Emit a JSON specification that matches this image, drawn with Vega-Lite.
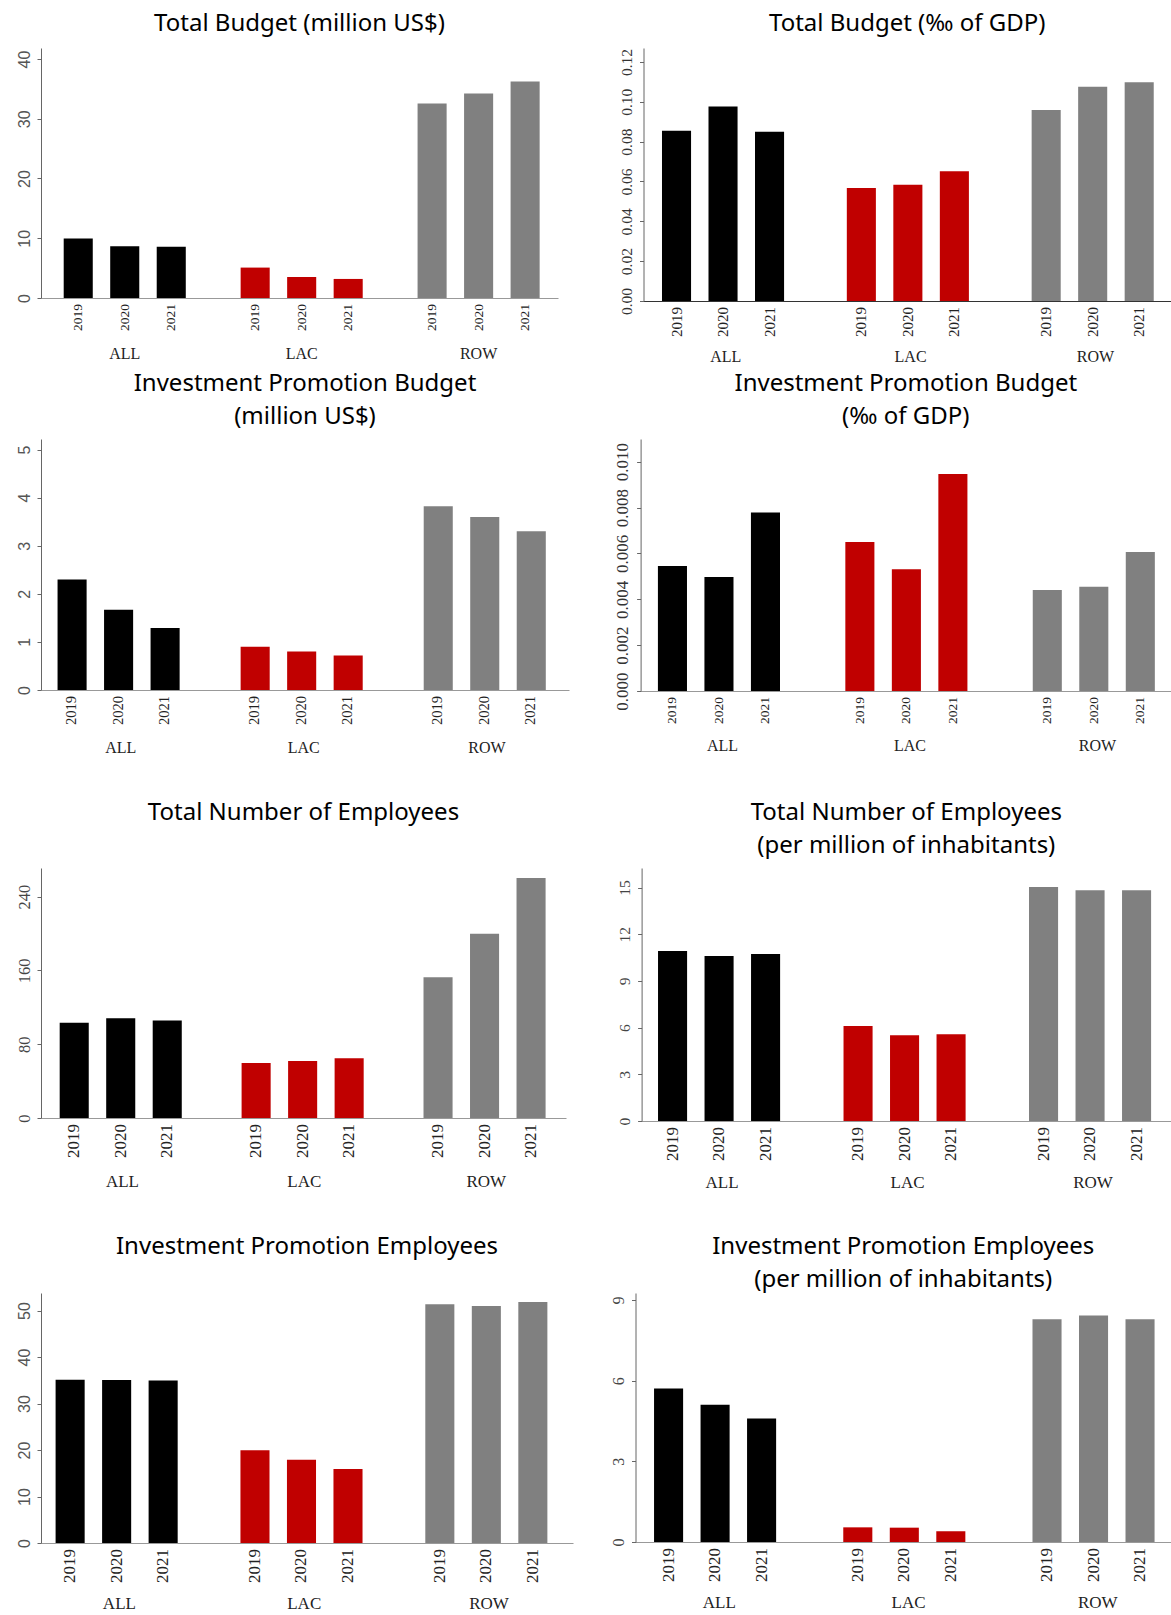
{
  "$schema": "https://vega.github.io/schema/vega-lite/v6.json",
  "background": "white",
  "padding": {"left": 15, "top": 11, "right": 0, "bottom": 0},
  "data": {"values": [
    {"panel": "p1", "group": "ALL", "year": "2019", "value": 9.96},
    {"panel": "p1", "group": "ALL", "year": "2020", "value": 8.67},
    {"panel": "p1", "group": "ALL", "year": "2021", "value": 8.56},
    {"panel": "p1", "group": "LAC", "year": "2019", "value": 5.09},
    {"panel": "p1", "group": "LAC", "year": "2020", "value": 3.52},
    {"panel": "p1", "group": "LAC", "year": "2021", "value": 3.19},
    {"panel": "p1", "group": "ROW", "year": "2019", "value": 32.56},
    {"panel": "p1", "group": "ROW", "year": "2020", "value": 34.24},
    {"panel": "p1", "group": "ROW", "year": "2021", "value": 36.25},
    {"panel": "p2", "group": "ALL", "year": "2019", "value": 0.0854},
    {"panel": "p2", "group": "ALL", "year": "2020", "value": 0.0976},
    {"panel": "p2", "group": "ALL", "year": "2021", "value": 0.0849},
    {"panel": "p2", "group": "LAC", "year": "2019", "value": 0.0567},
    {"panel": "p2", "group": "LAC", "year": "2020", "value": 0.0584},
    {"panel": "p2", "group": "LAC", "year": "2021", "value": 0.0651},
    {"panel": "p2", "group": "ROW", "year": "2019", "value": 0.0959},
    {"panel": "p2", "group": "ROW", "year": "2020", "value": 0.1076},
    {"panel": "p2", "group": "ROW", "year": "2021", "value": 0.1098},
    {"panel": "p3", "group": "ALL", "year": "2019", "value": 2.30},
    {"panel": "p3", "group": "ALL", "year": "2020", "value": 1.67},
    {"panel": "p3", "group": "ALL", "year": "2021", "value": 1.29},
    {"panel": "p3", "group": "LAC", "year": "2019", "value": 0.90},
    {"panel": "p3", "group": "LAC", "year": "2020", "value": 0.80},
    {"panel": "p3", "group": "LAC", "year": "2021", "value": 0.72},
    {"panel": "p3", "group": "ROW", "year": "2019", "value": 3.82},
    {"panel": "p3", "group": "ROW", "year": "2020", "value": 3.60},
    {"panel": "p3", "group": "ROW", "year": "2021", "value": 3.30},
    {"panel": "p4", "group": "ALL", "year": "2019", "value": 0.00545},
    {"panel": "p4", "group": "ALL", "year": "2020", "value": 0.00497},
    {"panel": "p4", "group": "ALL", "year": "2021", "value": 0.00778},
    {"panel": "p4", "group": "LAC", "year": "2019", "value": 0.00650},
    {"panel": "p4", "group": "LAC", "year": "2020", "value": 0.00531},
    {"panel": "p4", "group": "LAC", "year": "2021", "value": 0.00946},
    {"panel": "p4", "group": "ROW", "year": "2019", "value": 0.00440},
    {"panel": "p4", "group": "ROW", "year": "2020", "value": 0.00455},
    {"panel": "p4", "group": "ROW", "year": "2021", "value": 0.00606},
    {"panel": "p5", "group": "ALL", "year": "2019", "value": 103.4},
    {"panel": "p5", "group": "ALL", "year": "2020", "value": 108.1},
    {"panel": "p5", "group": "ALL", "year": "2021", "value": 105.6},
    {"panel": "p5", "group": "LAC", "year": "2019", "value": 59.6},
    {"panel": "p5", "group": "LAC", "year": "2020", "value": 61.8},
    {"panel": "p5", "group": "LAC", "year": "2021", "value": 64.7},
    {"panel": "p5", "group": "ROW", "year": "2019", "value": 152.5},
    {"panel": "p5", "group": "ROW", "year": "2020", "value": 199.9},
    {"panel": "p5", "group": "ROW", "year": "2021", "value": 260.3},
    {"panel": "p6", "group": "ALL", "year": "2019", "value": 10.93},
    {"panel": "p6", "group": "ALL", "year": "2020", "value": 10.61},
    {"panel": "p6", "group": "ALL", "year": "2021", "value": 10.74},
    {"panel": "p6", "group": "LAC", "year": "2019", "value": 6.11},
    {"panel": "p6", "group": "LAC", "year": "2020", "value": 5.51},
    {"panel": "p6", "group": "LAC", "year": "2021", "value": 5.57},
    {"panel": "p6", "group": "ROW", "year": "2019", "value": 15.04},
    {"panel": "p6", "group": "ROW", "year": "2020", "value": 14.83},
    {"panel": "p6", "group": "ROW", "year": "2021", "value": 14.83},
    {"panel": "p7", "group": "ALL", "year": "2019", "value": 35.15},
    {"panel": "p7", "group": "ALL", "year": "2020", "value": 35.08},
    {"panel": "p7", "group": "ALL", "year": "2021", "value": 34.94},
    {"panel": "p7", "group": "LAC", "year": "2019", "value": 19.94},
    {"panel": "p7", "group": "LAC", "year": "2020", "value": 17.93},
    {"panel": "p7", "group": "LAC", "year": "2021", "value": 15.93},
    {"panel": "p7", "group": "ROW", "year": "2019", "value": 51.36},
    {"panel": "p7", "group": "ROW", "year": "2020", "value": 51.0},
    {"panel": "p7", "group": "ROW", "year": "2021", "value": 51.87},
    {"panel": "p8", "group": "ALL", "year": "2019", "value": 5.71},
    {"panel": "p8", "group": "ALL", "year": "2020", "value": 5.10},
    {"panel": "p8", "group": "ALL", "year": "2021", "value": 4.59},
    {"panel": "p8", "group": "LAC", "year": "2019", "value": 0.545},
    {"panel": "p8", "group": "LAC", "year": "2020", "value": 0.533},
    {"panel": "p8", "group": "LAC", "year": "2021", "value": 0.40},
    {"panel": "p8", "group": "ROW", "year": "2019", "value": 8.28},
    {"panel": "p8", "group": "ROW", "year": "2020", "value": 8.42},
    {"panel": "p8", "group": "ROW", "year": "2021", "value": 8.28}
  ]},
  "spacing": 391,
  "bounds": "flush",
  "vconcat": [
    {
      "hconcat": [
        {
          "width": 517, "height": 250,
          "title": {"text": "Total Budget (million US$)", "offset": 12.5},
          "transform": [{"filter": "datum.panel === 'p1'"}],
          "encoding": {
            "x": {"field": "group", "type": "nominal", "sort": ["ALL", "LAC", "ROW"], "scale": {"paddingInner": 0.31, "paddingOuter": 0.116, "align": 0.553}, "axis": {"title": null, "ticks": false, "tickSize": 0, "labelPadding": 47, "labelAngle": 0, "labelFont": "Liberation Serif", "labelFontSize": 16, "labelColor": "#222", "domainColor": "#999"}},
            "xOffset": {"field": "year", "type": "nominal", "scale": {"paddingInner": 0.375, "paddingOuter": 0}}
          },
          "layer": [
            {"mark": {"type": "bar"}, "encoding": {
              "y": {"field": "value", "type": "quantitative", "scale": {"domain": [0, 41.84], "nice": false}, "axis": {"title": null, "values": [0, 10, 20, 30, 40], "labelAngle": -90, "labelFont": "Liberation Sans", "labelFontSize": 16, "labelColor": "#555", "labelPadding": 5, "tickColor": "#666", "tickSize": 4, "domainColor": "#666", "grid": false}},
              "color": {"field": "group", "type": "nominal", "scale": {"domain": ["ALL", "LAC", "ROW"], "range": ["#000000", "#c00000", "#808080"]}, "legend": null}}},
            {"mark": {"type": "text", "angle": 270, "align": "right", "baseline": "middle", "dx": -6, "font": "Liberation Serif", "fontSize": 13.5, "color": "#222"}, "encoding": {
              "y": {"datum": 0, "type": "quantitative"},
              "text": {"field": "year"}}}
          ]
        },
        {
          "width": 527.5, "height": 253,
          "title": {"text": "Total Budget (‰ of GDP)", "offset": 12.5},
          "transform": [{"filter": "datum.panel === 'p2'"}],
          "encoding": {
            "x": {"field": "group", "type": "nominal", "sort": ["ALL", "LAC", "ROW"], "scale": {"paddingInner": 0.31, "paddingOuter": 0.082, "align": 0.61}, "axis": {"title": null, "ticks": false, "tickSize": 0, "labelPadding": 47, "labelAngle": 0, "labelFont": "Liberation Serif", "labelFontSize": 16, "labelColor": "#222", "domainColor": "#333"}},
            "xOffset": {"field": "year", "type": "nominal", "scale": {"paddingInner": 0.375, "paddingOuter": 0}}
          },
          "layer": [
            {"mark": {"type": "bar"}, "encoding": {
              "y": {"field": "value", "type": "quantitative", "scale": {"domain": [0, 0.127], "nice": false}, "axis": {"title": null, "values": [0, 0.02, 0.04, 0.06, 0.08, 0.1, 0.12], "format": ".2f", "labelAngle": -90, "labelFont": "Liberation Serif", "labelFontSize": 15.5, "labelColor": "#333", "labelPadding": 5, "tickColor": "#666", "tickSize": 4, "domainColor": "#666", "grid": false}},
              "color": {"field": "group", "type": "nominal", "scale": {"domain": ["ALL", "LAC", "ROW"], "range": ["#000000", "#c00000", "#808080"]}, "legend": null}}},
            {"mark": {"type": "text", "angle": 270, "align": "right", "baseline": "middle", "dx": -6, "font": "Liberation Serif", "fontSize": 15, "color": "#222"}, "encoding": {
              "y": {"datum": 0, "type": "quantitative"},
              "text": {"field": "year"}}}
          ]
        }
      ],
      "spacing": 85.5,
      "bounds": "flush"
    },
    {
      "spacing": 429,
      "bounds": "flush",
      "vconcat": [
        {
          "hconcat": [
            {
              "width": 528, "height": 251,
              "title": {"text": ["Investment Promotion Budget", "(million US$)"], "offset": 10},
              "transform": [{"filter": "datum.panel === 'p3'"}],
              "encoding": {
                "x": {"field": "group", "type": "nominal", "sort": ["ALL", "LAC", "ROW"], "scale": {"paddingInner": 0.31, "paddingOuter": 0.097, "align": 0.466}, "axis": {"title": null, "ticks": false, "tickSize": 0, "labelPadding": 49, "labelAngle": 0, "labelFont": "Liberation Serif", "labelFontSize": 16, "labelColor": "#222", "domainColor": "#999"}},
                "xOffset": {"field": "year", "type": "nominal", "scale": {"paddingInner": 0.375, "paddingOuter": 0}}
              },
              "layer": [
                {"mark": {"type": "bar"}, "encoding": {
                  "y": {"field": "value", "type": "quantitative", "scale": {"domain": [0, 5.22], "nice": false}, "axis": {"title": null, "values": [0, 1, 2, 3, 4, 5], "labelAngle": -90, "labelFont": "Liberation Sans", "labelFontSize": 16, "labelColor": "#555", "labelPadding": 5, "tickColor": "#666", "tickSize": 4, "domainColor": "#666", "grid": false}},
                  "color": {"field": "group", "type": "nominal", "scale": {"domain": ["ALL", "LAC", "ROW"], "range": ["#000000", "#c00000", "#808080"]}, "legend": null}}},
                {"mark": {"type": "text", "angle": 270, "align": "right", "baseline": "middle", "dx": -6, "font": "Liberation Serif", "fontSize": 14.5, "color": "#222"}, "encoding": {
                  "y": {"datum": 0, "type": "quantitative"},
                  "text": {"field": "year"}}}
              ]
            },
            {
              "width": 530.4, "height": 252,
              "title": {"text": ["Investment Promotion Budget", "(‰ of GDP)"], "offset": 10},
              "transform": [{"filter": "datum.panel === 'p4'"}],
              "encoding": {
                "x": {"field": "group", "type": "nominal", "sort": ["ALL", "LAC", "ROW"], "scale": {"paddingInner": 0.31, "paddingOuter": 0.07, "align": 0.66}, "axis": {"title": null, "ticks": false, "tickSize": 0, "labelPadding": 46, "labelAngle": 0, "labelFont": "Liberation Serif", "labelFontSize": 16, "labelColor": "#222", "domainColor": "#999"}},
                "xOffset": {"field": "year", "type": "nominal", "scale": {"paddingInner": 0.375, "paddingOuter": 0}}
              },
              "layer": [
                {"mark": {"type": "bar"}, "encoding": {
                  "y": {"field": "value", "type": "quantitative", "scale": {"domain": [0, 0.01099], "nice": false}, "axis": {"title": null, "values": [0, 0.002, 0.004, 0.006, 0.008, 0.01], "format": ".3f", "labelAngle": -90, "labelFont": "Liberation Serif", "labelFontSize": 17, "labelColor": "#333", "labelPadding": 5, "tickColor": "#666", "tickSize": 4, "domainColor": "#666", "grid": false}},
                  "color": {"field": "group", "type": "nominal", "scale": {"domain": ["ALL", "LAC", "ROW"], "range": ["#000000", "#c00000", "#808080"]}, "legend": null}}},
                {"mark": {"type": "text", "angle": 270, "align": "right", "baseline": "middle", "dx": -6, "font": "Liberation Serif", "fontSize": 13.5, "color": "#222"}, "encoding": {
                  "y": {"datum": 0, "type": "quantitative"},
                  "text": {"field": "year"}}}
              ]
            }
          ],
          "spacing": 71.6,
          "bounds": "flush"
        },
        {
          "spacing": 425,
          "bounds": "flush",
          "vconcat": [
            {
              "hconcat": [
                {
                  "width": 525, "height": 250,
                  "title": {"text": "Total Number of Employees", "offset": 42.6},
                  "transform": [{"filter": "datum.panel === 'p5'"}],
                  "encoding": {
                    "x": {"field": "group", "type": "nominal", "sort": ["ALL", "LAC", "ROW"], "scale": {"paddingInner": 0.31, "paddingOuter": 0.098, "align": 0.524}, "axis": {"title": null, "ticks": false, "tickSize": 0, "labelPadding": 55, "labelAngle": 0, "labelFont": "Liberation Serif", "labelFontSize": 17, "labelColor": "#222", "domainColor": "#999"}},
                    "xOffset": {"field": "year", "type": "nominal", "scale": {"paddingInner": 0.375, "paddingOuter": 0}}
                  },
                  "layer": [
                    {"mark": {"type": "bar"}, "encoding": {
                      "y": {"field": "value", "type": "quantitative", "scale": {"domain": [0, 271.1], "nice": false}, "axis": {"title": null, "values": [0, 80, 160, 240], "labelAngle": -90, "labelFont": "Liberation Serif", "labelFontSize": 16.5, "labelColor": "#444", "labelPadding": 5, "tickColor": "#666", "tickSize": 4, "domainColor": "#666", "grid": false}},
                      "color": {"field": "group", "type": "nominal", "scale": {"domain": ["ALL", "LAC", "ROW"], "range": ["#000000", "#c00000", "#808080"]}, "legend": null}}},
                    {"mark": {"type": "text", "angle": 270, "align": "right", "baseline": "middle", "dx": -6, "font": "Liberation Serif", "fontSize": 17, "color": "#222"}, "encoding": {
                      "y": {"datum": 0, "type": "quantitative"},
                      "text": {"field": "year"}}}
                  ]
                },
                {
                  "width": 529.4, "height": 253,
                  "title": {"text": ["Total Number of Employees", "(per million of inhabitants)"], "offset": 9.6},
                  "transform": [{"filter": "datum.panel === 'p6'"}],
                  "encoding": {
                    "x": {"field": "group", "type": "nominal", "sort": ["ALL", "LAC", "ROW"], "scale": {"paddingInner": 0.31, "paddingOuter": 0.082, "align": 0.54}, "axis": {"title": null, "ticks": false, "tickSize": 0, "labelPadding": 53, "labelAngle": 0, "labelFont": "Liberation Serif", "labelFontSize": 17, "labelColor": "#222", "domainColor": "#999"}},
                    "xOffset": {"field": "year", "type": "nominal", "scale": {"paddingInner": 0.375, "paddingOuter": 0}}
                  },
                  "layer": [
                    {"mark": {"type": "bar"}, "encoding": {
                      "y": {"field": "value", "type": "quantitative", "scale": {"domain": [0, 16.26], "nice": false}, "axis": {"title": null, "values": [0, 3, 6, 9, 12, 15], "labelAngle": -90, "labelFont": "Liberation Serif", "labelFontSize": 15.5, "labelColor": "#444", "labelPadding": 5, "tickColor": "#666", "tickSize": 4, "domainColor": "#666", "grid": false}},
                      "color": {"field": "group", "type": "nominal", "scale": {"domain": ["ALL", "LAC", "ROW"], "range": ["#000000", "#c00000", "#808080"]}, "legend": null}}},
                    {"mark": {"type": "text", "angle": 270, "align": "right", "baseline": "middle", "dx": -6, "font": "Liberation Serif", "fontSize": 17, "color": "#222"}, "encoding": {
                      "y": {"datum": 0, "type": "quantitative"},
                      "text": {"field": "year"}}}
                  ]
                }
              ],
              "spacing": 75.6,
              "bounds": "flush"
            },
            {
              "hconcat": [
                {
                  "width": 532, "height": 250,
                  "title": {"text": "Investment Promotion Employees", "offset": 34.2},
                  "transform": [{"filter": "datum.panel === 'p7'"}],
                  "encoding": {
                    "x": {"field": "group", "type": "nominal", "sort": ["ALL", "LAC", "ROW"], "scale": {"paddingInner": 0.31, "paddingOuter": 0.094, "align": 0.42}, "axis": {"title": null, "ticks": false, "tickSize": 0, "labelPadding": 52, "labelAngle": 0, "labelFont": "Liberation Serif", "labelFontSize": 17, "labelColor": "#222", "domainColor": "#999"}},
                    "xOffset": {"field": "year", "type": "nominal", "scale": {"paddingInner": 0.375, "paddingOuter": 0}}
                  },
                  "layer": [
                    {"mark": {"type": "bar"}, "encoding": {
                      "y": {"field": "value", "type": "quantitative", "scale": {"domain": [0, 53.79], "nice": false}, "axis": {"title": null, "values": [0, 10, 20, 30, 40, 50], "labelAngle": -90, "labelFont": "Liberation Sans", "labelFontSize": 16, "labelColor": "#555", "labelPadding": 5, "tickColor": "#666", "tickSize": 4, "domainColor": "#666", "grid": false}},
                      "color": {"field": "group", "type": "nominal", "scale": {"domain": ["ALL", "LAC", "ROW"], "range": ["#000000", "#c00000", "#808080"]}, "legend": null}}},
                    {"mark": {"type": "text", "angle": 270, "align": "right", "baseline": "middle", "dx": -6, "font": "Liberation Serif", "fontSize": 17, "color": "#222"}, "encoding": {
                      "y": {"datum": 0, "type": "quantitative"},
                      "text": {"field": "year"}}}
                  ]
                },
                {
                  "width": 535.5, "height": 249,
                  "title": {"text": ["Investment Promotion Employees", "(per million of inhabitants)"], "offset": 1.2},
                  "transform": [{"filter": "datum.panel === 'p8'"}],
                  "encoding": {
                    "x": {"field": "group", "type": "nominal", "sort": ["ALL", "LAC", "ROW"], "scale": {"paddingInner": 0.31, "paddingOuter": 0.07, "align": 0.7}, "axis": {"title": null, "ticks": false, "tickSize": 0, "labelPadding": 52, "labelAngle": 0, "labelFont": "Liberation Serif", "labelFontSize": 17, "labelColor": "#222", "domainColor": "#999"}},
                    "xOffset": {"field": "year", "type": "nominal", "scale": {"paddingInner": 0.375, "paddingOuter": 0}}
                  },
                  "layer": [
                    {"mark": {"type": "bar"}, "encoding": {
                      "y": {"field": "value", "type": "quantitative", "scale": {"domain": [0, 9.26], "nice": false}, "axis": {"title": null, "values": [0, 3, 6, 9], "labelAngle": -90, "labelFont": "Liberation Serif", "labelFontSize": 16, "labelColor": "#444", "labelPadding": 5, "tickColor": "#666", "tickSize": 4, "domainColor": "#666", "grid": false}},
                      "color": {"field": "group", "type": "nominal", "scale": {"domain": ["ALL", "LAC", "ROW"], "range": ["#000000", "#c00000", "#808080"]}, "legend": null}}},
                    {"mark": {"type": "text", "angle": 270, "align": "right", "baseline": "middle", "dx": -6, "font": "Liberation Serif", "fontSize": 17, "color": "#222"}, "encoding": {
                      "y": {"datum": 0, "type": "quantitative"},
                      "text": {"field": "year"}}}
                  ]
                }
              ],
              "spacing": 62.5,
              "bounds": "flush"
            }
          ]
        }
      ]
    }
  ],
  "config": {
    "view": {"stroke": null},
    "title": {"font": "Noto Sans", "fontSize": 24, "fontWeight": "normal", "color": "#000000", "lineHeight": 33, "anchor": "middle"},
    "axis": {"grid": false}
  }
}
